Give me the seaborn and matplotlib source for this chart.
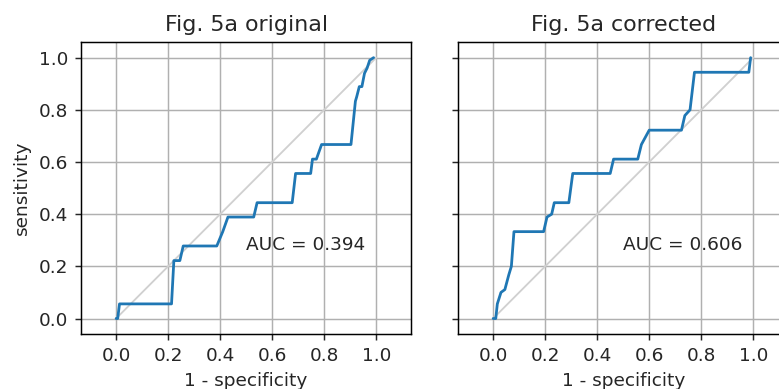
import matplotlib
matplotlib.use("Agg")
import matplotlib.pyplot as plt
import seaborn as sns
import pandas as pd

# ROC curves (1 - specificity, sensitivity)
fpr_orig = [0.0, 0.006, 0.013, 0.213, 0.222, 0.245, 0.258, 0.387, 0.41, 0.43, 0.529,
            0.542, 0.677, 0.69, 0.748, 0.755, 0.77, 0.79, 0.903, 0.92, 0.925, 0.935,
            0.945, 0.955, 0.965, 0.975, 0.99]
tpr_orig = [0.0, 0.0, 0.056, 0.056, 0.222, 0.222, 0.278, 0.278, 0.333, 0.389, 0.389,
            0.444, 0.444, 0.556, 0.556, 0.611, 0.611, 0.667, 0.667, 0.833, 0.85, 0.889,
            0.889, 0.94, 0.96, 0.99, 1.0]

fpr_corr = [0.0, 0.01, 0.016, 0.03, 0.045, 0.06, 0.07, 0.08, 0.194, 0.207, 0.225,
            0.235, 0.291, 0.306, 0.45, 0.463, 0.556, 0.57, 0.6, 0.724, 0.737, 0.757,
            0.774, 0.983, 0.99]
tpr_corr = [0.0, 0.0, 0.056, 0.1, 0.111, 0.167, 0.2, 0.333, 0.333, 0.389, 0.4,
            0.444, 0.444, 0.556, 0.556, 0.611, 0.611, 0.667, 0.722, 0.722, 0.778, 0.8,
            0.944, 0.944, 1.0]

titles = ["Fig. 5a original", "Fig. 5a corrected"]
auc_labels = ["AUC = 0.394", "AUC = 0.606"]
ticks = [0.0, 0.2, 0.4, 0.6, 0.8, 1.0]

DPI = 133
sns.set_style("ticks", {"axes.grid": True, "grid.color": "#b0b0b0",
                        "axes.edgecolor": "black"})
plt.rcParams['font.family'] = ['DejaVu Sans']

fig = plt.figure(figsize=(779 / DPI, 389 / DPI), dpi=DPI)
ax1 = fig.add_axes([0.104, 0.141, 0.424, 0.751])
ax2 = fig.add_axes([0.588, 0.141, 0.424, 0.751], sharey=ax1)

curves = [(fpr_orig, tpr_orig), (fpr_corr, tpr_corr)]
for ax, (fpr, tpr), title, auc in zip([ax1, ax2], curves, titles, auc_labels):
    df = pd.DataFrame({"fpr": fpr, "tpr": tpr})
    ax.plot([0, 1], [0, 1], color="#d0d0d0", lw=1)
    sns.lineplot(data=df, x="fpr", y="tpr", ax=ax, sort=False, estimator=None,
                 color="#1f77b4", lw=1.5)
    ax.text(0.5, 0.28, auc, ha="left", va="center", fontsize=10)
    ax.set_title(title, fontsize=12)
    ax.set_xlabel("1 - specificity", fontsize=10)
    ax.set_xticks(ticks)
    ax.set_yticks(ticks)
    ax.set_xlim(-0.135, 1.135)
    ax.set_ylim(-0.06, 1.06)
    ax.grid(True, color="#b0b0b0", lw=0.8)
    ax.tick_params(length=3.5, width=0.8, labelsize=10)
    for s in ax.spines.values():
        s.set_linewidth(0.8)

ax1.set_ylabel("sensitivity", fontsize=10)
ax2.set_ylabel("")
ax2.tick_params(labelleft=False)

fig.savefig("out.png", dpi=DPI)
